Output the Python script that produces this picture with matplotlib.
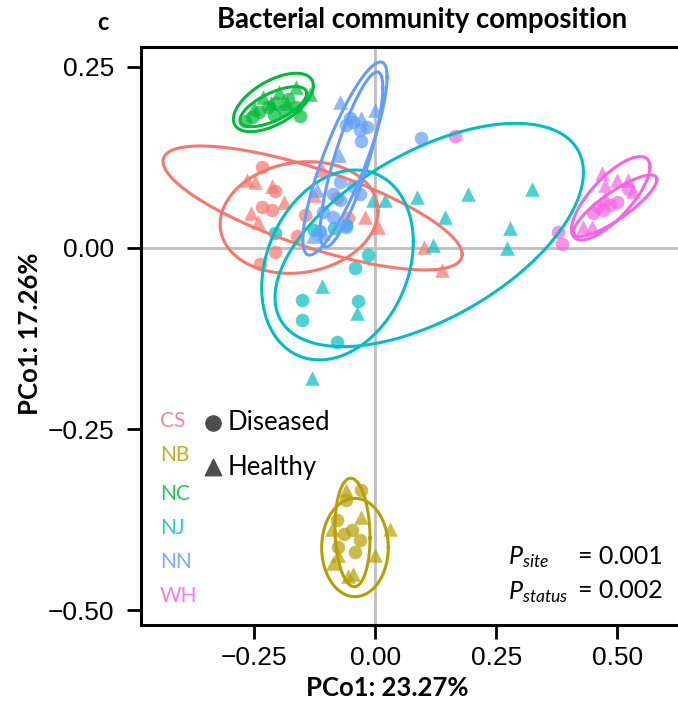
import numpy as np
import matplotlib.pyplot as plt

sites = ['CS', 'NB', 'NC', 'NJ', 'NN', 'WH']
colors = ['#F8766D', '#B79F00', '#00BA38', '#00BFC4', '#619CFF', '#F564E3']

# Diseased = circles, Healthy = triangles (PCo1, PCo2)
cs_dis_x = [-0.235, -0.208, -0.235, -0.214, -0.208, -0.238, -0.146, -0.056, -0.080, -0.163]
cs_dis_y = [0.112, 0.078, 0.057, 0.052, -0.005, -0.022, 0.046, 0.041, 0.069, 0.016]
cs_hea_x = [-0.266, -0.249, -0.214, -0.190, -0.258, -0.242, -0.111, -0.128, -0.022, 0.006, 0.100, 0.137]
cs_hea_y = [0.094, 0.091, 0.085, 0.064, 0.048, 0.036, 0.108, 0.073, 0.043, 0.029, 0.002, -0.031]

nb_dis_x = [-0.029, -0.060, -0.080, -0.049, -0.032, -0.077, -0.042, -0.065]
nb_dis_y = [-0.334, -0.348, -0.375, -0.389, -0.403, -0.412, -0.419, -0.395]
nb_hea_x = [-0.060, -0.029, -0.090, 0.030, -0.077, -0.001, -0.087, -0.046, -0.056]
nb_hea_y = [-0.334, -0.371, -0.387, -0.387, -0.423, -0.423, -0.435, -0.449, -0.453]

nc_dis_x = [-0.270, -0.255, -0.240, -0.222, -0.205, -0.190, -0.180, -0.165, -0.155, -0.210]
nc_dis_y = [0.175, 0.180, 0.188, 0.195, 0.200, 0.190, 0.205, 0.195, 0.182, 0.184]
nc_hea_x = [-0.232, -0.200, -0.165, -0.135, -0.250, -0.182, -0.215]
nc_hea_y = [0.208, 0.215, 0.222, 0.212, 0.193, 0.200, 0.200]

nj_dis_x = [-0.208, -0.128, -0.085, -0.060, -0.015, -0.042, -0.152, -0.152, -0.036, -0.080]
nj_dis_y = [0.020, 0.025, 0.028, 0.032, -0.010, -0.028, -0.072, -0.100, -0.073, -0.129]
nj_hea_x = [-0.005, 0.020, 0.085, 0.144, 0.192, 0.119, 0.323, 0.278, 0.271, -0.111, -0.039, -0.132]
nj_hea_y = [0.066, 0.066, 0.071, 0.043, 0.075, 0.004, 0.082, 0.027, 0.000, -0.053, -0.090, -0.180]

nn_dis_x = [-0.053, -0.060, -0.032, -0.018, -0.029, -0.046, 0.095, -0.073, -0.087, -0.046,
            -0.073, -0.108, -0.087, -0.060, -0.115, -0.032]
nn_dis_y = [0.179, 0.170, 0.163, 0.167, 0.147, 0.174, 0.151, 0.091, 0.075, 0.085,
            0.066, 0.050, 0.043, 0.029, 0.024, 0.075]
nn_hea_x = [-0.073, -0.001, -0.029, -0.075, -0.121, -0.108, -0.129]
nn_hea_y = [0.202, 0.190, 0.179, 0.128, 0.080, 0.020, 0.016]

wh_dis_x = [0.164, 0.378, 0.385, 0.450, 0.460, 0.485, 0.498, 0.522, 0.470]
wh_dis_y = [0.154, 0.022, 0.006, 0.048, 0.057, 0.059, 0.064, 0.082, 0.052]
wh_hea_x = [0.467, 0.498, 0.522, 0.474, 0.533, 0.429, 0.447, 0.474]
wh_hea_y = [0.103, 0.094, 0.094, 0.087, 0.078, 0.029, 0.029, 0.069]

# 95% ellipses, per site: diseased then healthy
# centre, half extent in x and y, correlation (tilt)
ell_cx = [-0.158, -0.130, -0.0475, -0.0424, -0.211, -0.211, -0.0785, 0.111, -0.063, -0.0496, 0.486, 0.495]
ell_cy = [0.042, 0.0552, -0.3924, -0.4131, 0.1949, 0.2007, -0.0234, 0.0179, 0.1234, 0.1221, 0.0686, 0.0582]
ell_hx = [0.163, 0.309, 0.0362, 0.0688, 0.0689, 0.0826, 0.1566, 0.3186, 0.0870, 0.0647, 0.081, 0.0862]
ell_hy = [0.077, 0.0855, 0.0748, 0.0678, 0.0276, 0.0403, 0.131, 0.154, 0.1332, 0.1207, 0.0575, 0.0425]
ell_rho = [0.12, -0.75, -0.1, 0.0, 0.66, 0.57, 0.24, 0.56, 0.84, 0.82, 0.75, 0.85]

groups = [
    (cs_dis_x, cs_dis_y, cs_hea_x, cs_hea_y),
    (nb_dis_x, nb_dis_y, nb_hea_x, nb_hea_y),
    (nc_dis_x, nc_dis_y, nc_hea_x, nc_hea_y),
    (nj_dis_x, nj_dis_y, nj_hea_x, nj_hea_y),
    (nn_dis_x, nn_dis_y, nn_hea_x, nn_hea_y),
    (wh_dis_x, wh_dis_y, wh_hea_x, wh_hea_y),
]

W, H = 678, 705
fig = plt.figure(figsize=(W / 100, H / 100), dpi=100)
ax = fig.add_axes([140.5 / W, 1 - 625 / H, (W - 140.5) / W, (625 - 47) / H])

ax.axhline(0, color='#bebebe', lw=2.0, zorder=1)
ax.axvline(0, color='#bebebe', lw=2.0, zorder=1)

for col, (dx, dy, hx, hy) in zip(colors, groups):
    ax.scatter(dx, dy, s=95, marker='o', color=col, alpha=0.7, lw=0, zorder=2)
    ax.scatter(hx, hy, s=110, marker='^', color=col, alpha=0.7, lw=0, zorder=2)

t = np.linspace(0, 2 * np.pi, 240)
for i in range(len(ell_cx)):
    col = colors[i // 2]
    r = ell_rho[i]
    ex = ell_cx[i] + ell_hx[i] * np.cos(t)
    ey = ell_cy[i] + ell_hy[i] * (r * np.cos(t) + np.sqrt(1 - r ** 2) * np.sin(t))
    ax.plot(ex, ey, color=col, lw=2.2, zorder=3)

ax.set_xlim(-0.4855, 0.625)
ax.set_ylim(-0.52, 0.2772)
ax.set_xticks([-0.25, 0.0, 0.25, 0.5])
ax.set_yticks([-0.5, -0.25, 0.0, 0.25])
ax.set_xticklabels(['\u22120.25', '0.00', '0.25', '0.50'])
ax.set_yticklabels(['\u22120.50', '\u22120.25', '0.00', '0.25'])
for lab in ax.get_xticklabels() + ax.get_yticklabels():
    lab.set_fontfamily('Liberation Sans')
    lab.set_fontsize(19)
ax.tick_params(length=10, width=2.0, pad=5, color='black')
ax.tick_params(axis='y', pad=9)
for s in ['left', 'bottom', 'top']:
    ax.spines[s].set_linewidth(2.2)
ax.spines['right'].set_visible(False)

font = 'Lato'
fig.text(103 / W, 1 - 22 / H, 'c', fontsize=17, fontweight='bold', family=font, ha='center', va='center')
fig.text(422 / W, 1 - 20 / H, 'Bacterial community composition', fontsize=19.8, fontweight='bold',
         family=font, ha='center', va='center')
fig.text(387 / W, 1 - 688 / H, 'PCo1: 23.27%', fontsize=18.5, fontweight='bold', family=font,
         ha='center', va='center')
fig.text(30 / W, 1 - 334 / H, 'PCo1: 17.26%', fontsize=18.5, fontweight='bold', family=font,
         ha='center', va='center', rotation=90)

# site legend
site_y = [421, 455, 494, 528, 562.5, 596.5]
for name, col, py in zip(sites, colors, site_y):
    fig.text(160 / W, 1 - py / H, name, fontsize=15, color=col, alpha=0.85, family=font,
             ha='left', va='center')

# status legend
ax.scatter([-0.336], [(248 - 423) / 725], s=120, marker='o', color='#4d4d4d', clip_on=False, zorder=4)
ax.scatter([-0.336], [(248 - 467) / 725], s=140, marker='^', color='#4d4d4d', clip_on=False, zorder=4)
fig.text(228 / W, 1 - 423 / H, 'Diseased', fontsize=18.5, family=font, ha='left', va='center')
fig.text(228 / W, 1 - 468 / H, 'Healthy', fontsize=18.5, family=font, ha='left', va='center')

# p values
plt.rcParams['mathtext.fontset'] = 'custom'
plt.rcParams['mathtext.it'] = 'Lato:italic'
plt.rcParams['mathtext.rm'] = 'Lato'
fig.text(508 / W, 1 - 557 / H, r'$\mathit{P}_{\mathit{site}}$', fontsize=18, family=font,
         ha='left', va='center')
fig.text(578 / W, 1 - 556 / H, '= 0.001', fontsize=18, family=font, ha='left', va='center')
fig.text(508 / W, 1 - 592 / H, r'$\mathit{P}_{\mathit{status}}$', fontsize=18, family=font,
         ha='left', va='center')
fig.text(578 / W, 1 - 591 / H, '= 0.002', fontsize=18, family=font, ha='left', va='center')

fig.savefig('out.png', dpi=100)
